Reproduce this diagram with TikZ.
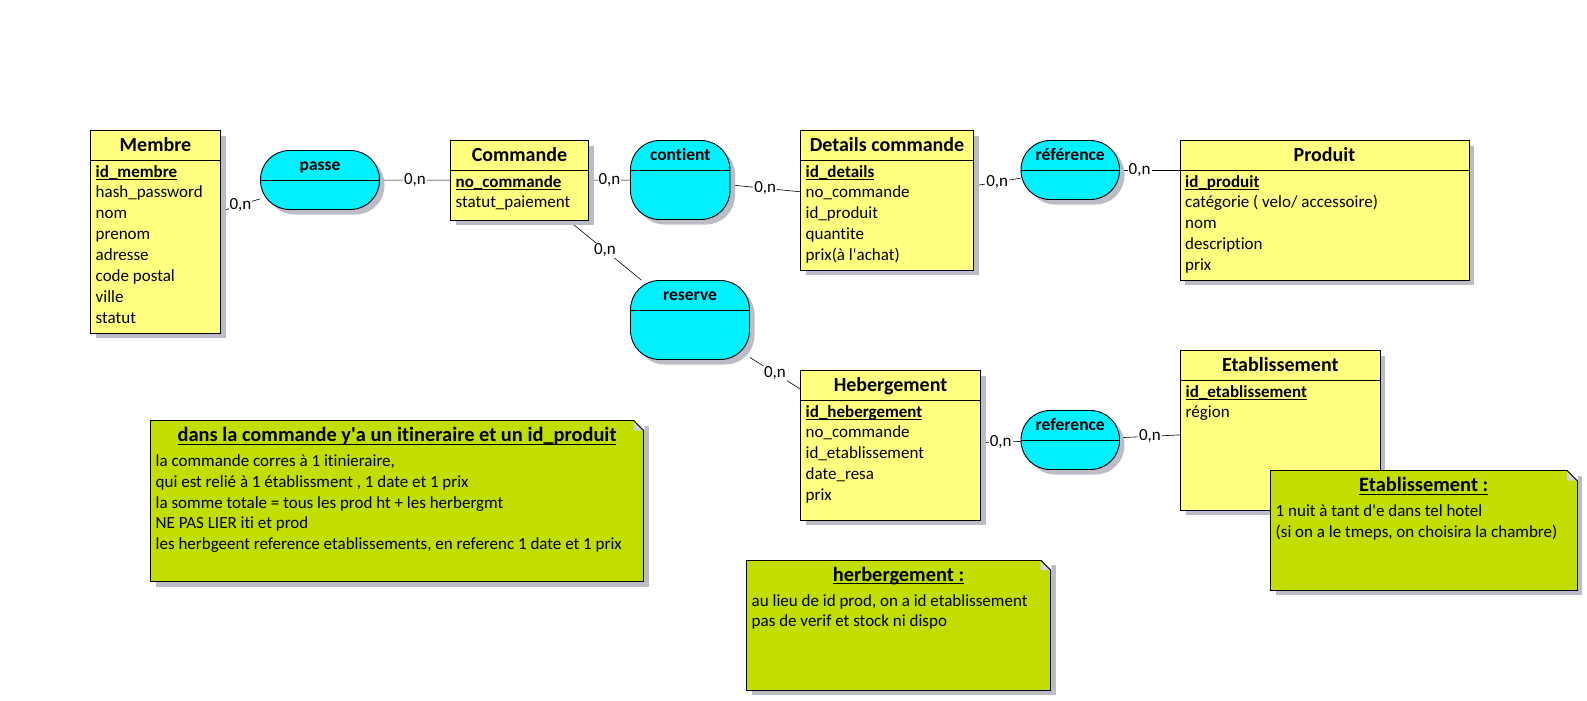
\documentclass[tikz,border=0pt]{standalone}
\usepackage{fontspec}
\setmainfont{Carlito}[Ligatures={TeX,NoCommon}]
\usetikzlibrary{shadows,calc,backgrounds}
\definecolor{entfill}{RGB}{255,255,128}
\definecolor{relfill}{RGB}{0,240,255}
\definecolor{notefill}{RGB}{194,222,0}
\definecolor{shadowc}{RGB}{188,188,198}
\definecolor{foldc}{RGB}{212,212,216}

\newcommand\fsA{\fontsize{17}{20.8}\selectfont}
\newcommand\fsT{\fontsize{20}{24}\selectfont\bfseries}
\newcommand\fsR{\fontsize{17.5}{21}\selectfont\bfseries}
\newcommand\fsN{\fontsize{20.4}{24}\selectfont\bfseries}
\newcommand\keyul[1]{\setbox0\hbox{#1}\rlap{\rule[-3pt]{\wd0}{1pt}}\box0}

\tikzset{
 boxshadow/.style={general shadow={fill=shadowc, shadow xshift=5pt, shadow yshift=-5pt}},
 entitybox/.style={draw, line width=0.9pt, fill=entfill, inner sep=0pt, boxshadow},
 relbox/.style={draw, line width=0.9pt, fill=relfill, inner sep=0pt, rounded corners=29pt, boxshadow},
 notebox/.style={draw, line width=0.9pt, fill=notefill, inner sep=0pt, boxshadow},
 sepline/.style={line width=0.9pt},
 link/.style={line width=0.6pt},
 card/.style={fill=white, inner sep=1pt, font=\fsA},
 etitle/.style={anchor=base, inner sep=0pt, font=\fsT},
 rtitle/.style={anchor=base, inner sep=0pt, font=\fsR},
 ntitle/.style={anchor=base, inner sep=0pt, font=\fsN},
 attr/.style={anchor=base west, inner sep=0pt, font=\fsA},
}

% name, x1, y1, x2, y2, header y, title, attributes
\newcommand\entity[8]{%
 \node[entitybox, minimum width={(#4)-(#2)}, minimum height={(#5)-(#3)}] (#1) at ({((#2)+(#4))/2},{((#3)+(#5))/2}) {};
 \draw[sepline] (#2,#6) -- (#4,#6);
 \node[etitle] (#1-t) at ({((#2)+(#4))/2},{(#6)-9}) {#7};
 \foreach \myattr [count=\i from 0] in {#8}{%
   \node[attr] (#1-a\i) at ({(#2)+5},{(#6)+16.6+20.86*\i}) {\ifnum\i=0 \keyul{\textbf{\myattr}}\else\myattr\fi};
 }%
}
% name, x1, y1, x2, y2, divider y, title
\newcommand\relation[7]{%
 \node[relbox, minimum width={(#4)-(#2)}, minimum height={(#5)-(#3)}] (#1) at ({((#2)+(#4))/2},{((#3)+(#5))/2}) {};
 \draw[sepline] (#2,#6) -- (#4,#6);
 \node[rtitle] (#1-t) at ({((#2)+(#4))/2},{(#6)-10}) {#7};
}
% name, x1, y1, x2, y2, title, lines
\newcommand\notebox[7]{%
 \node[notebox, minimum width={(#4)-(#2)}, minimum height={(#5)-(#3)}] (#1) at ({((#2)+(#4))/2},{((#3)+(#5))/2}) {};
 \fill[white] ({(#4)-10},{(#3)-1}) -- ({(#4)+1},{(#3)-1}) -- ({(#4)+1},{(#3)+10}) -- cycle;
 \fill[foldc] ({(#4)-10},#3) -- ({(#4)-10},{(#3)+10}) -- (#4,{(#3)+10}) -- cycle;
 \draw[sepline] ({(#4)-10},#3) -- (#4,{(#3)+10});
 \node[ntitle] (#1-t) at ({((#2)+(#4))/2},{(#3)+21.3}) {\keyul{#6}};
 \foreach \myline [count=\i from 0] in {#7}{%
   \node[attr] (#1-l\i) at ({(#2)+5},{(#3)+46+20.8*\i}) {\myline};
 }%
}

\begin{document}
\begin{tikzpicture}[x=1pt,y=-1pt]
\useasboundingbox (0,0) rectangle (1587,701);

\entity{membre}{90.5}{130.5}{220.5}{333}{160.5}{Membre}{id\_membre,hash\_password,nom,prenom,adresse,code postal,ville,statut}
\entity{commande}{450.5}{140.5}{588.5}{220}{170.5}{Commande}{no\_commande,statut\_paiement}
\entity{details}{800.5}{130.5}{973.5}{270}{160.5}{Details commande}{id\_details,no\_commande,id\_produit,quantite,prix(à l\textquotesingle achat)}
\entity{produit}{1180}{140.5}{1469}{280}{170.5}{Produit}{id\_produit,catégorie ( velo/ accessoire),nom,description,prix}
\entity{heberg}{800.5}{370.5}{980.5}{520}{400.5}{Hebergement}{id\_hebergement,no\_commande,id\_etablissement,date\_resa,prix}
\entity{etab}{1180.5}{350.5}{1380}{510}{380.5}{Etablissement}{id\_etablissement,région}

\relation{passe}{260.5}{150.5}{379.5}{209.5}{180}{passe}
\relation{contient}{630.5}{140.5}{730}{219.5}{170.5}{contient}
\relation{ref1}{1021}{140.5}{1119.5}{199.5}{170}{référence}
\relation{reserve}{630.5}{280.5}{749.5}{359.5}{310.5}{reserve}
\relation{ref2}{1021}{410.5}{1119.5}{469.5}{440}{reference}

\notebox{n1}{150.5}{420.5}{643.5}{581.5}{dans la commande y\textquotesingle a un itineraire et un id\_produit}{{la commande corres à 1 itinieraire,},{qui est relié à 1 établissment , 1 date et 1 prix},{la somme totale = tous les prod ht + les herbergmt},{NE PAS LIER iti et prod},{les herbgeent reference etablissements, en referenc 1 date et 1 prix}}
\notebox{n2}{746.5}{560}{1050.5}{690}{herbergement :}{{au lieu de id prod, on a id etablissement},{pas de verif et stock ni dispo}}
\notebox{n3}{1270.5}{470.5}{1577}{590}{Etablissement :}{{1 nuit à tant d\textquotesingle e dans tel hotel},{(si on a le tmeps, on choisira la chambre)}}

\begin{pgfonlayer}{background}
\fill[white] (0,0) rectangle (1587,701);
\draw[link] (membre) -- node[card]{0,n} (passe);
\draw[link] (passe) -- node[card]{0,n} (commande);
\draw[link] (commande) -- node[card]{0,n} (contient);
\draw[link] (contient) -- node[card]{0,n} (details);
\draw[link] (details) -- node[card]{0,n} (ref1);
\draw[link] (ref1.east) -- node[card, pos=0.33]{0,n} (ref1.east -| produit.west);
\draw[link] (commande) -- node[card]{0,n} (reserve);
\draw[link] (reserve) -- node[card]{0,n} (heberg);
\draw[link] (heberg) -- node[card]{0,n} (ref2);
\draw[link] (ref2) -- node[card]{0,n} (etab);
\end{pgfonlayer}
\end{tikzpicture}
\end{document}
